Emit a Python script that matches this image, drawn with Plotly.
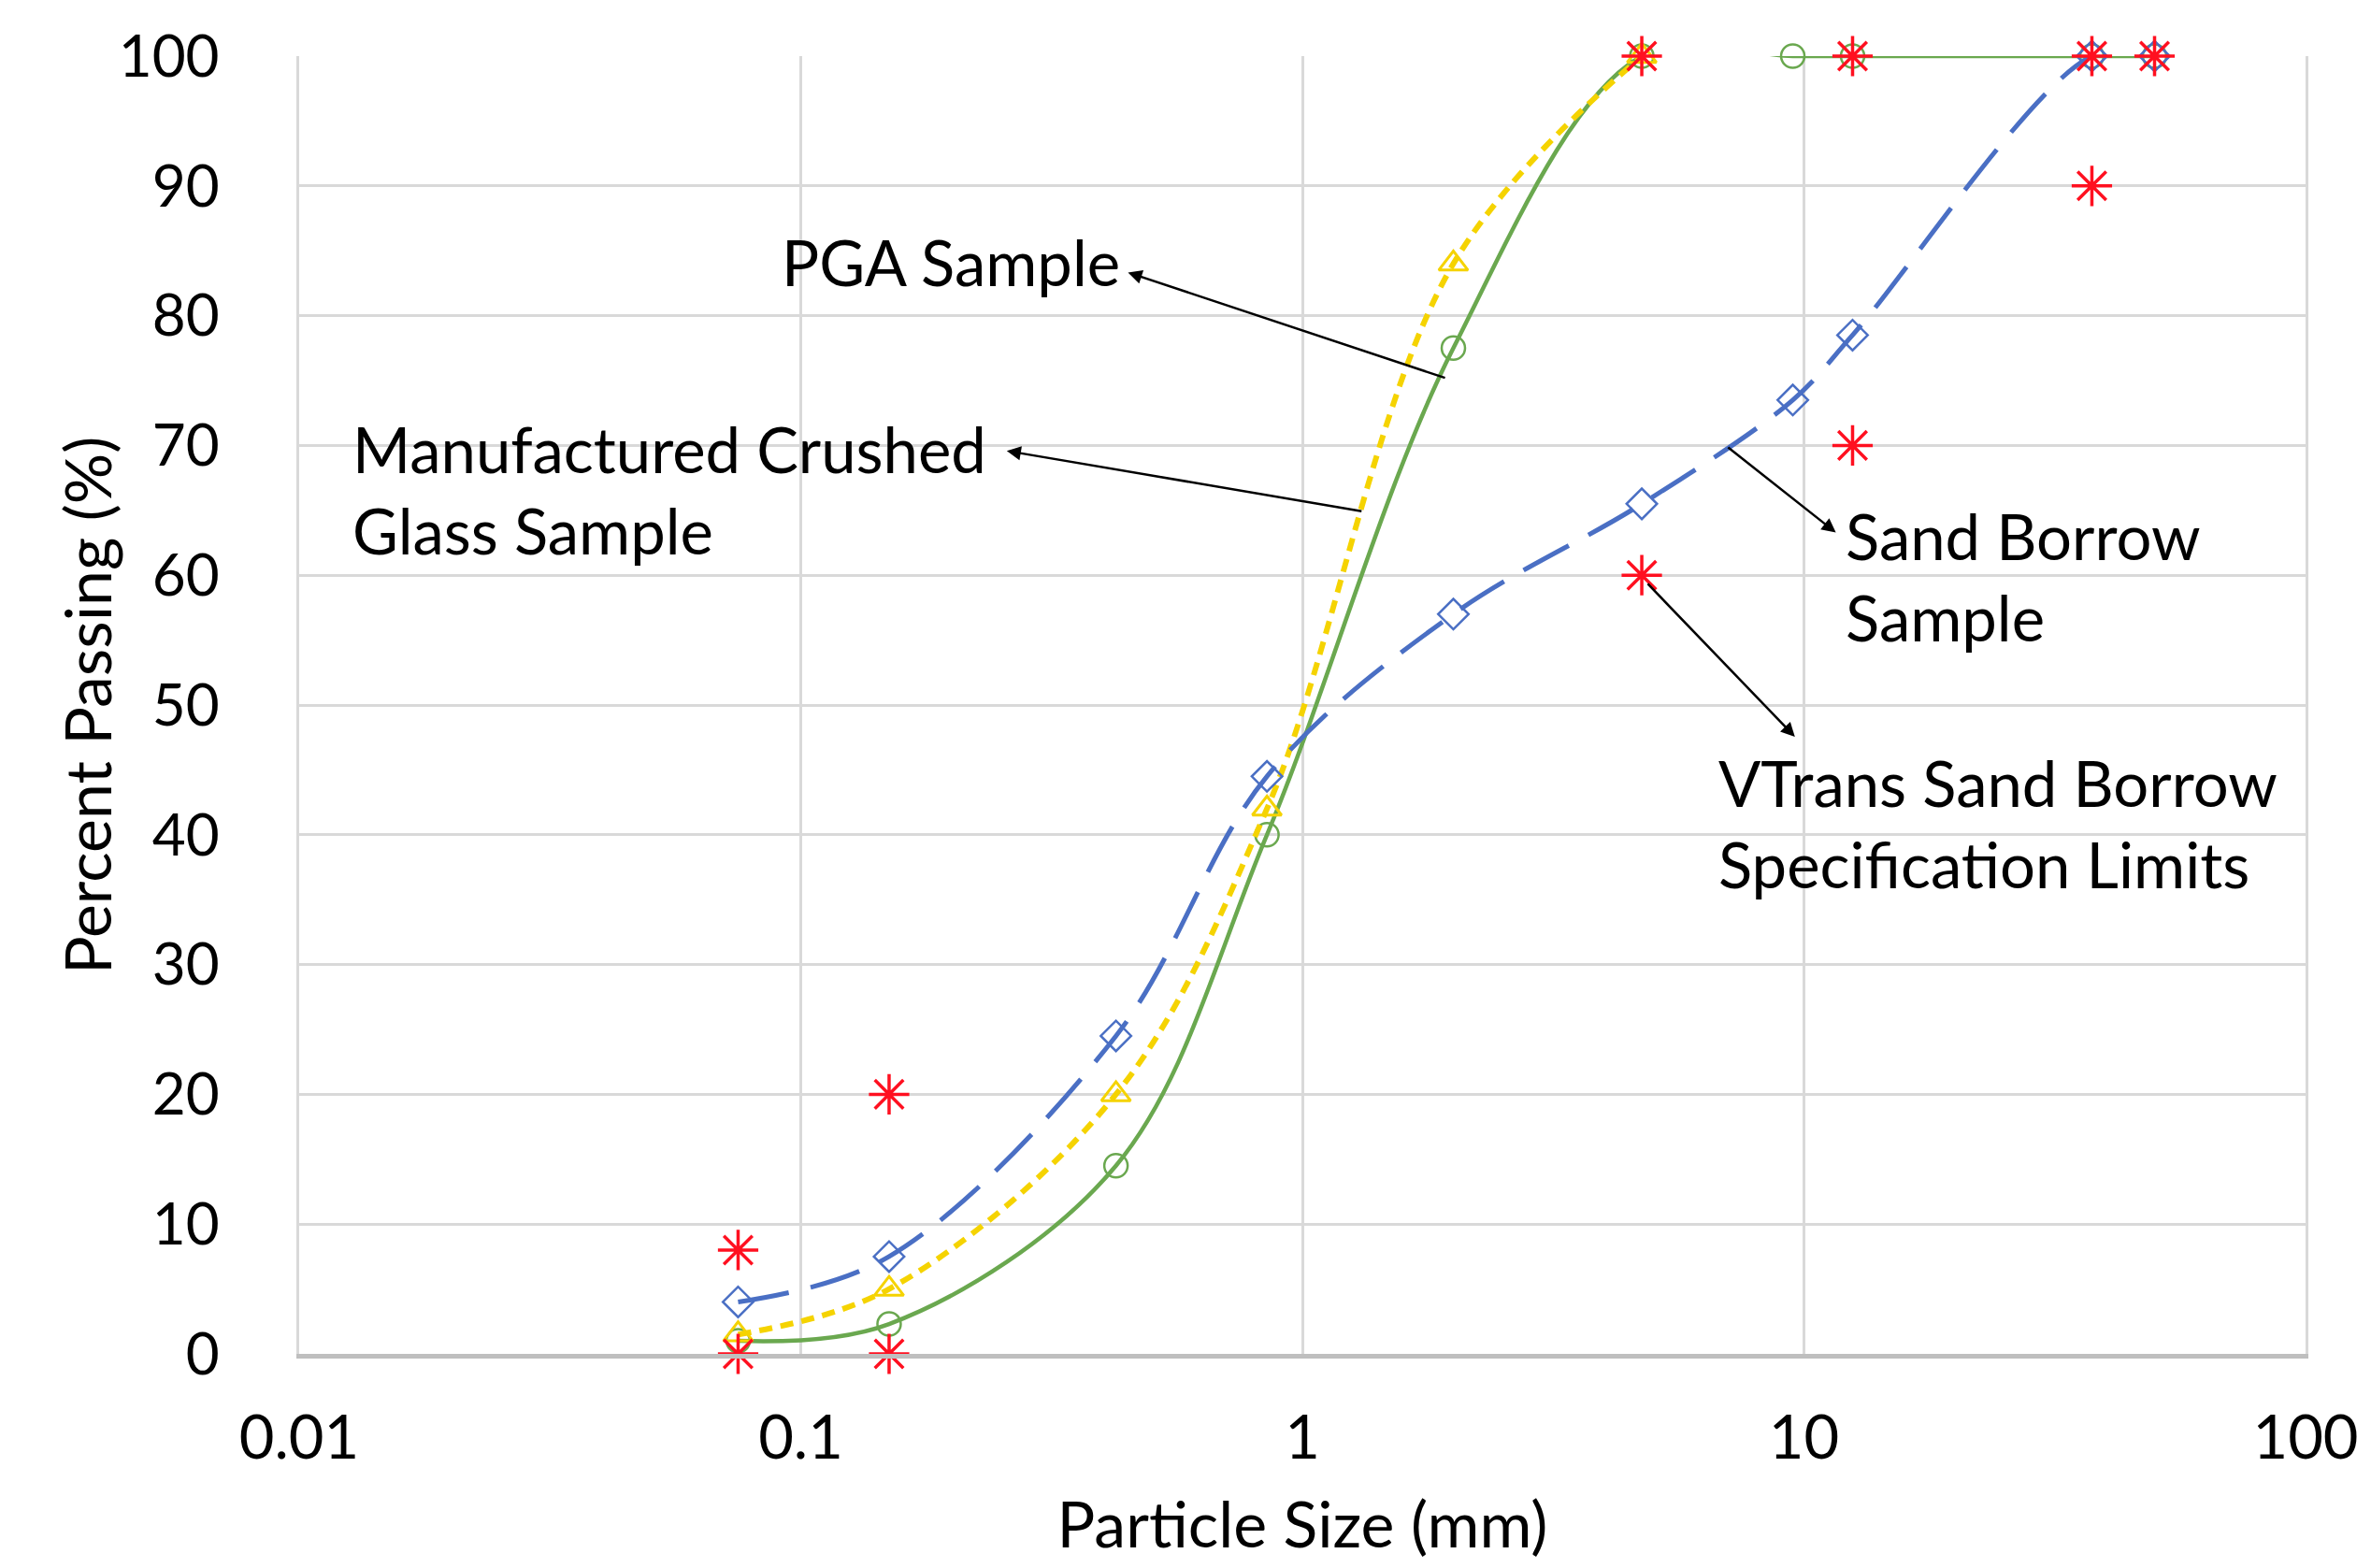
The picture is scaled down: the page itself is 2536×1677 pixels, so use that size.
import plotly.graph_objects as go

# ---- data ----
sizes_glass = [0.075, 0.15, 0.425, 0.85, 2.0, 4.75, 9.5, 12.5, 37.5, 50]
pass_glass = [1.0, 2.3, 14.5, 40, 77.5, 100, 100, 100, 100, 100]

sizes_pga = [0.075, 0.15, 0.425, 0.85, 2.0, 4.75]
pass_pga = [1.5, 5.0, 20.0, 42.0, 84.0, 100]

sizes_sand = [0.075, 0.15, 0.425, 0.85, 2.0, 4.75, 9.5, 12.5, 37.5, 50]
pass_sand = [4.0, 7.5, 24.5, 44.5, 57.0, 65.5, 73.5, 78.5, 100, 100]

sizes_spec = [0.075, 0.075, 0.15, 0.15, 4.75, 4.75, 12.5, 12.5, 37.5, 37.5, 50]
pass_spec = [8, 0, 20, 0, 60, 100, 70, 100, 90, 100, 100]

x_ticks = [0.01, 0.1, 1, 10, 100]
x_tick_labels = ["0.01", "0.1", "1", "10", "100"]
y_ticks = [0, 10, 20, 30, 40, 50, 60, 70, 80, 90, 100]

FONT = "Lato"
GREEN = "#6AA84F"
YELLOW = "#F5D300"
BLUE = "#4A6FC4"
RED = "#FF1020"

fig = go.Figure()

fig.add_trace(go.Scatter(
    x=sizes_glass, y=pass_glass, mode="lines+markers", line_shape="spline",
    line=dict(color=GREEN, width=4.5),
    marker=dict(symbol="circle-open", size=25, color=GREEN, line=dict(width=2.5)),
    cliponaxis=False, name="Manufactured Crushed Glass Sample"))

fig.add_trace(go.Scatter(
    x=sizes_pga, y=pass_pga, mode="lines+markers", line_shape="spline",
    line=dict(color=YELLOW, width=6, dash="14px,9px"),
    marker=dict(symbol="triangle-up-open", size=27, color=YELLOW, line=dict(width=3)),
    cliponaxis=False, name="PGA Sample"))

fig.add_trace(go.Scatter(
    x=sizes_sand, y=pass_sand, mode="lines+markers", line_shape="spline",
    line=dict(color=BLUE, width=5, dash="55px,24px"),
    marker=dict(symbol="diamond-open", size=25, color=BLUE, line=dict(width=2.5)),
    cliponaxis=False, name="Sand Borrow Sample"))

fig.add_trace(go.Scatter(
    x=sizes_spec, y=pass_spec, mode="markers",
    marker=dict(symbol="asterisk-open", size=36, color=RED, line=dict(width=3.5, color=RED)),
    cliponaxis=False, name="VTrans Sand Borrow Specification Limits"))

TXT = dict(family=FONT, size=67, color="#000000")

def label(text, x, y):
    fig.add_annotation(text=text, x=x, y=y, xref="x domain", yref="y domain",
                       xanchor="left", yanchor="middle", align="left",
                       showarrow=False, font=TXT)

def arrow(hx, hy, tx, ty):
    fig.add_annotation(text="", x=hx, y=hy, ax=tx, ay=ty,
                       xref="x domain", yref="y domain",
                       axref="x domain", ayref="y domain",
                       showarrow=True, arrowhead=2, arrowsize=1.2,
                       arrowwidth=2.5, arrowcolor="#000000")

label("PGA Sample", 0.2394, 0.8415)
arrow(0.4131, 0.8333, 0.5718, 0.7517)
label("Manufactured Crushed<br>Glass Sample", 0.0257, 0.6661)
arrow(0.3527, 0.6958, 0.5302, 0.6492)
label("Sand Borrow<br>Sample", 0.7696, 0.5991)
arrow(0.7659, 0.6329, 0.7115, 0.6993)
label("VTrans Sand Borrow<br>Specification Limits", 0.7062, 0.4091)
arrow(0.7455, 0.4755, 0.6715, 0.5944)

# y-axis title, placed as rotated text left of the tick labels
fig.add_annotation(text="Percent Passing (%)", x=-0.1062, y=0.5,
                   xref="x domain", yref="y domain", xanchor="center", yanchor="middle",
                   textangle=-90, showarrow=False,
                   font=dict(family=FONT, size=68, color="#000000"))

fig.update_layout(
    width=2520, height=1661,
    margin=dict(l=312, r=62, t=52, b=221),
    paper_bgcolor="white", plot_bgcolor="white",
    showlegend=False,
    font=dict(family=FONT, color="#000000"),
    xaxis=dict(
        type="log", range=[-2, 2],
        tickvals=x_ticks, ticktext=x_tick_labels,
        tickfont=dict(family=FONT, size=65, color="#000000"),
        ticks="", ticklabelstandoff=29,
        showgrid=True, gridcolor="#D9D9D9", gridwidth=3,
        showline=True, linecolor="#BFBFBF", linewidth=5,
        zeroline=False, automargin=False,
        title=dict(text="Particle Size (mm)", standoff=45,
                   font=dict(family=FONT, size=68, color="#000000")),
    ),
    yaxis=dict(
        range=[0, 100], tickvals=y_ticks,
        tickfont=dict(family=FONT, size=62, color="#000000"),
        ticks="", ticklabelstandoff=70,
        showgrid=True, gridcolor="#D9D9D9", gridwidth=3,
        showline=True, linecolor="#D9D9D9", linewidth=3, mirror=True,
        zeroline=False, automargin=False,
    ),
)

fig.write_html("out.html")
